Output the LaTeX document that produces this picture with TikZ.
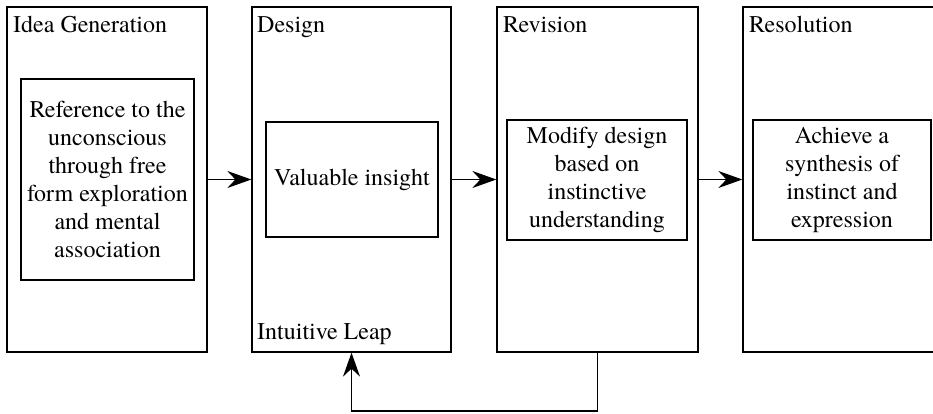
\documentclass[tikz,border=0pt]{standalone}
\usepackage{fontspec}
\newfontfamily\diagfont{texgyretermes-regular.otf}
\usetikzlibrary{arrows.meta}
\begin{document}
\begin{tikzpicture}[x=1pt,y=-1pt,
  every node/.style={font=\diagfont\fontsize{24}{28}\selectfont},
  outer/.style={draw,line width=1.3pt,inner sep=0pt,minimum width=200pt,minimum height=345pt},
  inner/.style={draw,line width=1.3pt,inner sep=0pt,align=center},
  title/.style={anchor=base west,inner sep=0pt},
  arr/.style={line width=1.3pt,-{Stealth[length=24pt,width=17pt,inset=8pt]}}]
\useasboundingbox (0,0) rectangle (933,414);
\clip (0,0) rectangle (933,414);
\node[outer] (b1) at (107,179.5) {};
\node[outer,minimum width=199pt] (b2) at (351.5,179.5) {};
\node[outer,minimum width=201pt] (b3) at (597.5,179.5) {};
\node[outer,minimum width=202pt] (b4) at (844,179.5) {};
\node[inner,minimum width=173pt,minimum height=201pt] (i1) at (107.5,179.5)
  {Reference to the\\unconscious\\through free\\form exploration\\and mental\\association};
\node[inner,minimum width=172pt,minimum height=115pt] (i2) at (352,179.5) {Valuable insight};
\node[inner,minimum width=180pt,minimum height=120pt] (i3) at (597,180)
  {Modify design\\based on\\instinctive\\understanding};
\node[inner,minimum width=178pt,minimum height=120pt] (i4) at (842,180)
  {Achieve a\\synthesis of\\instinct and\\expression};
\node[title] (t1) at (13,33) {Idea Generation};
\node[title] (t2) at (257,33) {Design};
\node[title] (t3) at (503,33) {Revision};
\node[title] (t4) at (749,33) {Resolution};
\node[title] (t5) at (257,339) {Intuitive Leap};
\coordinate (fb) at (475,411);
\draw[arr] (b1.east) -- (b2.west);
\draw[arr] (b2.east) -- (b3.west);
\draw[arr] (b3.east) -- (b4.west);
\draw[arr] (b3.south) |- (fb) -| (b2.south);
\end{tikzpicture}
\end{document}
